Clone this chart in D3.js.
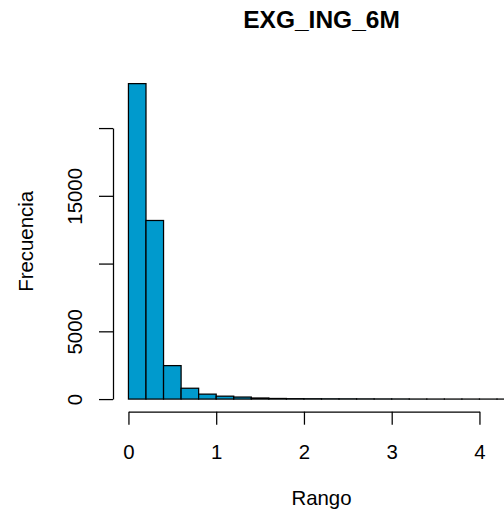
<!DOCTYPE html>
<html>
<head>
<meta charset="utf-8">
<script src="https://cdn.jsdelivr.net/npm/d3@7/dist/d3.min.js"></script>
<style>
  html, body { margin: 0; padding: 0; background: #fff; }
  svg { display: block; font-family: "Liberation Sans", Arial, Helvetica, sans-serif; }
</style>
</head>
<body>
<svg id="chart" width="504" height="514"></svg>
<script>
// Histogram of EXG_ING_6M: bin edges (width 0.2) and the count in each bin
const breaks = [0, 0.2, 0.4, 0.6, 0.8, 1.0, 1.2, 1.4, 1.6, 1.8, 2.0, 2.2,
                2.4, 2.6, 2.8, 3.0, 3.2, 3.4, 3.6, 3.8, 4.0, 4.2, 4.4];
const counts = [23280, 13180, 2470, 800, 365, 215, 150, 80, 45, 30, 25,
                20, 18, 15, 12, 10, 4, 3, 2, 2, 1, 1];

const xTicks = [0, 1, 2, 3, 4];
const xTickLabels = ["0", "1", "2", "3", "4"];
const yTicks = [0, 5000, 10000, 15000, 20000];
const yTickLabels = ["0", "5000", "", "15000", ""];

const chartTitle = "EXG_ING_6M";
const xTitle = "Rango";
const yTitle = "Frecuencia";

const fontSize = 20.4;
const barFill = "#009ACD";
const ink = "#000";
const lw = 1.25;

// plot region (extends past the right edge of the window)
const plot = { left: 113, right: 530, top: 71, bottom: 411.7 };

const svg = d3.select("#chart");

// x limits: range of the breaks, padded by 4% on each side
const bx0 = breaks[0], bx1 = breaks[breaks.length - 1];
const xpad = 0.04 * (bx1 - bx0);
const x = d3.scaleLinear()
  .domain([bx0 - xpad, bx1 + xpad])
  .range([plot.left, plot.right]);

// y limits: 0 .. max count, padded by 4%
const ymax = d3.max(counts);
const ypad = 0.04 * ymax;
const y = d3.scaleLinear()
  .domain([-ypad, ymax + ypad])
  .range([plot.bottom, plot.top]);

const bins = counts.map((c, i) => ({ x0: breaks[i], x1: breaks[i + 1], n: c }));

svg.append("g")
  .selectAll("rect")
  .data(bins)
  .join("rect")
  .attr("x", d => x(d.x0))
  .attr("width", d => x(d.x1) - x(d.x0))
  .attr("y", d => y(d.n))
  .attr("height", d => y(0) - y(d.n))
  .attr("fill", barFill)
  .attr("stroke", ink)
  .attr("stroke-width", lw);

// bottom axis, spanning the first to the last tick
const xAxisScale = d3.scaleLinear()
  .domain([xTicks[0], xTicks[xTicks.length - 1]])
  .range([x(xTicks[0]), x(xTicks[xTicks.length - 1])]);

const gx = svg.append("g")
  .attr("transform", `translate(0,${plot.bottom})`)
  .call(d3.axisBottom(xAxisScale)
    .tickValues(xTicks)
    .tickFormat((d, i) => xTickLabels[i])
    .tickSize(13)
    .tickSizeOuter(0)
    .tickPadding(0));
gx.select(".domain").attr("stroke", ink).attr("stroke-width", lw);
gx.selectAll(".tick line").attr("stroke", ink).attr("stroke-width", lw);
gx.selectAll(".tick text")
  .attr("y", 47)
  .attr("dy", null)
  .attr("fill", ink)
  .style("font-size", fontSize + "px")
  .style("font-family", "Liberation Sans, Arial, sans-serif");

// left axis, labels written parallel to the axis
const yAxisScale = d3.scaleLinear()
  .domain([yTicks[0], yTicks[yTicks.length - 1]])
  .range([y(yTicks[0]), y(yTicks[yTicks.length - 1])]);

const gy = svg.append("g")
  .attr("transform", `translate(${plot.left},0)`)
  .call(d3.axisLeft(yAxisScale)
    .tickValues(yTicks)
    .tickFormat((d, i) => yTickLabels[i])
    .tickSize(14)
    .tickSizeOuter(0)
    .tickPadding(0));
gy.select(".domain").attr("stroke", ink).attr("stroke-width", lw);
gy.selectAll(".tick line").attr("stroke", ink).attr("stroke-width", lw);
gy.selectAll(".tick text")
  .attr("x", null)
  .attr("dy", null)
  .attr("text-anchor", "middle")
  .attr("transform", "translate(-31,0) rotate(-90)")
  .attr("fill", ink)
  .style("font-size", fontSize + "px")
  .style("font-family", "Liberation Sans, Arial, sans-serif");

const cx = (plot.left + plot.right) / 2;
const cy = (plot.top + plot.bottom) / 2;

svg.append("text")
  .attr("x", cx)
  .attr("y", 28)
  .attr("text-anchor", "middle")
  .attr("font-weight", "bold")
  .attr("font-size", 24.5)
  .attr("fill", ink)
  .text(chartTitle);

svg.append("text")
  .attr("x", cx)
  .attr("y", 505)
  .attr("text-anchor", "middle")
  .attr("font-size", fontSize)
  .attr("fill", ink)
  .text(xTitle);

svg.append("text")
  .attr("transform", `translate(33,${cy}) rotate(-90)`)
  .attr("text-anchor", "middle")
  .attr("font-size", fontSize)
  .attr("fill", ink)
  .text(yTitle);
</script>
</body>
</html>
